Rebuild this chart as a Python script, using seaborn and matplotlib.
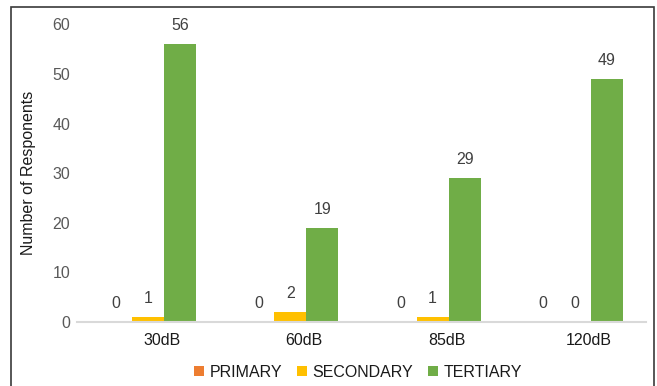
import matplotlib
matplotlib.use("Agg")
import matplotlib.pyplot as plt
import matplotlib.transforms as mtransforms
from matplotlib.patches import Rectangle
import seaborn as sns
import pandas as pd

# Responses per education level at each noise level
categories = ["30dB", "60dB", "85dB", "120dB"]
series = ["PRIMARY", "SECONDARY", "TERTIARY"]
primary = [0, 0, 0, 0]
secondary = [1, 2, 1, 0]
tertiary = [56, 19, 29, 49]
colors = ["#ED7D31", "#FFC000", "#70AD47"]
y_ticks = [0, 10, 20, 30, 40, 50, 60]

rows = []
for name, vals in zip(series, [primary, secondary, tertiary]):
    for cat, v in zip(categories, vals):
        rows.append({"Noise": cat, "Level": name, "Responses": v})
df = pd.DataFrame(rows)

sns.set_theme(style="white")
plt.rcParams["font.family"] = ["Liberation Sans", "DejaVu Sans"]

fig = plt.figure(figsize=(6.57, 3.86), dpi=100)
ax = fig.add_axes([0.1172, 0.1658, 0.866, 0.7710])

sns.barplot(data=df, x="Noise", y="Responses", hue="Level",
            order=categories, hue_order=series, palette=colors,
            width=0.675, errorbar=None, saturation=1, linewidth=0,
            ax=ax, legend=False)

for cont in ax.containers:
    ax.bar_label(cont, padding=8, color="#404040", fontsize=11.5)

ax.set_ylim(0, 60)
ax.set_xlim(-0.5, len(categories) - 0.5)
ax.set_yticks(y_ticks)
ax.tick_params(axis="y", length=0, pad=5, labelsize=11.5, labelcolor="#595959")
ax.tick_params(axis="x", length=0, pad=8, labelsize=11.5, labelcolor="#1a1a1a")
offset = mtransforms.ScaledTranslation(0.14, 0, fig.dpi_scale_trans)
for lbl in ax.get_xticklabels():
    lbl.set_transform(lbl.get_transform() + offset)

ax.set_xlabel("")
ax.set_ylabel("Number of Responents", fontsize=11.5, color="#1a1a1a")
ax.yaxis.set_label_coords(-0.072, 0.5)

for side in ["left", "right", "top"]:
    ax.spines[side].set_visible(False)
ax.spines["bottom"].set_color("#d9d9d9")
ax.spines["bottom"].set_linewidth(1.5)
ax.grid(False)

handles = [Rectangle((0, 0), 1, 1, facecolor=c, edgecolor="none") for c in colors]
fig.legend(handles, series, loc="center", bbox_to_anchor=(358 / 657, 0.036),
           ncol=3, frameon=False, fontsize=11.5,
           handlelength=0.65, handleheight=0.65, handletextpad=0.35,
           columnspacing=0.9, labelcolor="#1a1a1a", borderaxespad=0, borderpad=0)

fig.patches.append(Rectangle((11 / 657, -0.05), (654 - 11) / 657, 1 - 7 / 386 + 0.05,
                             transform=fig.transFigure, fill=False,
                             edgecolor="#3a3a3a", linewidth=1.2))

fig.savefig("out.png", dpi=100)
